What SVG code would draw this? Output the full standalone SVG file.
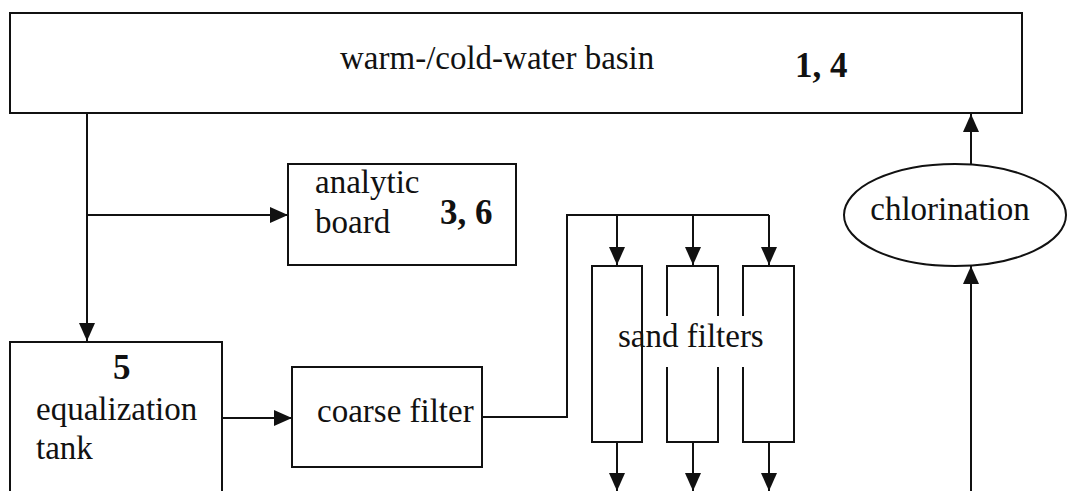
<svg xmlns="http://www.w3.org/2000/svg" width="1068" height="491" viewBox="0 0 1068 491">
  <style>
    .box { fill: #fff; stroke: #111; stroke-width: 2; }
    .wire { fill: none; stroke: #111; stroke-width: 2; }
    text { font-family: 'Liberation Serif', 'DejaVu Serif', serif; fill: #111; }
    .lbl { font-size: 33px; }
    .num { font-size: 35px; font-weight: bold; }
  </style>
  <defs>
    <marker id="arrow" markerUnits="userSpaceOnUse" markerWidth="18" markerHeight="16" refX="18" refY="8" orient="auto">
      <path d="M0,0 L18,8 L0,16 Z" fill="#111"/>
    </marker>
  </defs>
  <rect width="1068" height="491" fill="#fff"/>

  <g id="basin">
    <rect class="box" x="10" y="13" width="1012" height="100"/>
    <text class="lbl" x="340" y="69">warm-/cold-water basin</text>
    <text class="num" x="795" y="77" font-size="39">1, 4</text>
  </g>

  <g id="analytic-board">
    <rect class="box" x="288" y="164" width="228" height="101"/>
    <text class="lbl" x="315" y="193">analytic</text>
    <text class="lbl" x="315" y="233">board</text>
    <text class="num" x="440" y="224">3, 6</text>
  </g>

  <g id="equalization-tank">
    <rect class="box" x="10" y="342" width="212" height="160"/>
    <text class="num" x="113" y="379">5</text>
    <text class="lbl" x="36" y="420">equalization</text>
    <text class="lbl" x="36" y="459">tank</text>
  </g>

  <g id="coarse-filter">
    <rect class="box" x="292" y="367" width="190" height="100"/>
    <text class="lbl" x="317" y="422">coarse filter</text>
  </g>

  <g id="sand-filters">
    <rect class="box" x="592" y="266" width="50" height="176"/>
    <rect class="box" x="667" y="266" width="51" height="176"/>
    <rect class="box" x="743" y="266" width="51" height="176"/>
    <rect x="643" y="316" width="148" height="51" fill="#fff"/>
    <text class="lbl" x="618" y="347">sand filters</text>
  </g>

  <g id="chlorination">
    <ellipse cx="955" cy="215" rx="111" ry="51" fill="#fff" stroke="#111" stroke-width="2"/>
    <text class="lbl" x="950" y="220" text-anchor="middle">chlorination</text>
  </g>

  <g id="connectors">
    <line class="wire" x1="87" y1="113" x2="87" y2="341" marker-end="url(#arrow)"/>
    <line class="wire" x1="87" y1="215" x2="288" y2="215" marker-end="url(#arrow)"/>
    <line class="wire" x1="222" y1="418" x2="292" y2="418" marker-end="url(#arrow)"/>
    <path class="wire" d="M482,417 H567 V215 H769"/>
    <line class="wire" x1="617" y1="215" x2="617" y2="265" marker-end="url(#arrow)"/>
    <line class="wire" x1="693" y1="215" x2="693" y2="265" marker-end="url(#arrow)"/>
    <line class="wire" x1="769" y1="215" x2="769" y2="265" marker-end="url(#arrow)"/>
    <line class="wire" x1="617" y1="442" x2="617" y2="491" marker-end="url(#arrow)"/>
    <line class="wire" x1="693" y1="442" x2="693" y2="491" marker-end="url(#arrow)"/>
    <line class="wire" x1="769" y1="442" x2="769" y2="491" marker-end="url(#arrow)"/>
    <line class="wire" x1="971" y1="491" x2="971" y2="266" marker-end="url(#arrow)"/>
    <line class="wire" x1="971" y1="164" x2="971" y2="114" marker-end="url(#arrow)"/>
  </g>
</svg>
